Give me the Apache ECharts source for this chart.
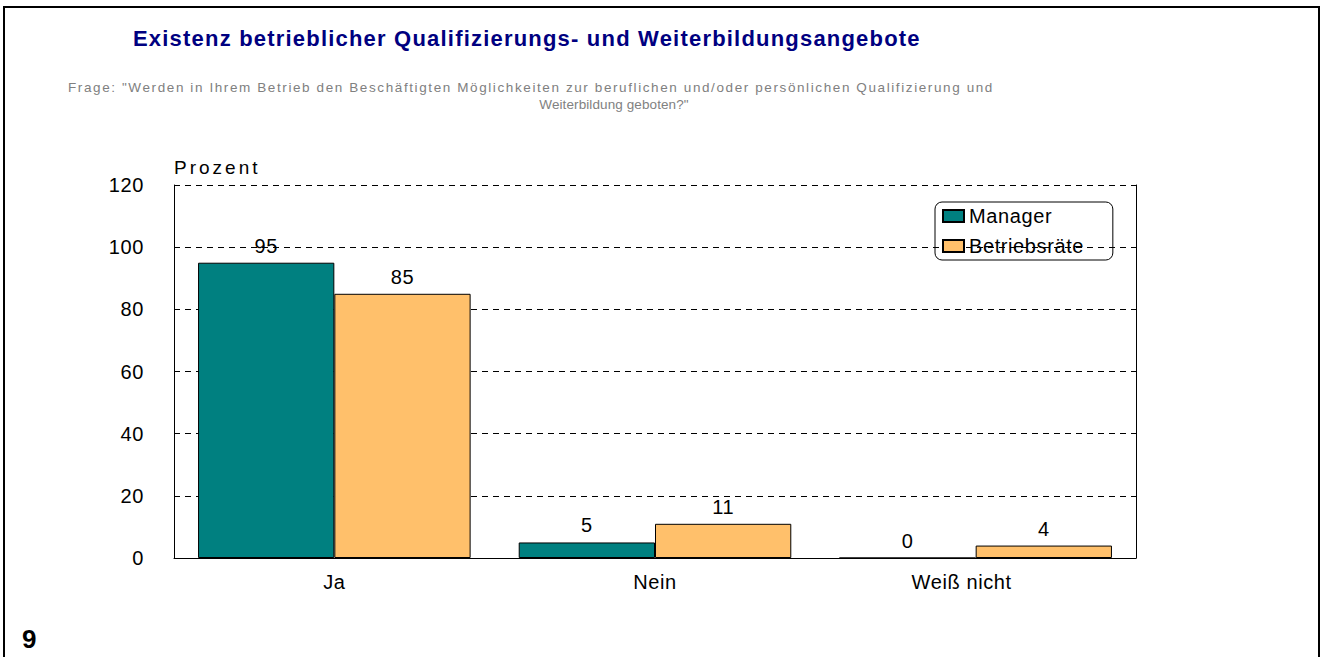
<!DOCTYPE html>
<html>
<head>
<meta charset="utf-8">
<script src="https://cdn.jsdelivr.net/npm/echarts@6/dist/echarts.min.js"></script>
<style>
  html, body { margin: 0; padding: 0; background: #fff; }
  #main { width: 1321px; height: 657px; }
  /* the original export spreads its glyphs a little */
  #main text { letter-spacing: 0.6px; }
  #main text[fill="#000080"] { letter-spacing: 1.2px; }
  #main text[fill="#808080"] { letter-spacing: 1.6px; }
  #main text[fill="#818181"] { letter-spacing: 0.1px; }
  #main text[fill="#010101"] { letter-spacing: 3px; }
</style>
</head>
<body>
<div id="main"></div>
<script>
// Data
const categories = ["Ja", "Nein", "Weiß nicht"];
const seriesNames = ["Manager", "Betriebsräte"];
const managerValues = [95, 5, 0];
const betriebsraeteValues = [85, 11, 4];
const yTicks = [0, 20, 40, 60, 80, 100, 120];

const FONT = "Arial, 'Liberation Sans', sans-serif";
const chart = echarts.init(document.getElementById("main"), null, { renderer: "svg" });

const labelStyle = {
  show: true,
  position: "top",
  distance: 7,
  color: "#000",
  fontSize: 20,
  fontFamily: FONT,
};

// the last category label sits a bit left of its band in the original
const categoryData = categories.map((name, i) =>
  i === categories.length - 1
    ? { value: name, textStyle: { padding: [0, 28, 0, 0] } }
    : name
);

const option = {
  backgroundColor: "#fff",
  animation: false,
  title: {
    text: "Existenz betrieblicher Qualifizierungs- und Weiterbildungsangebote",
    left: 128,
    top: 22,
    textStyle: { color: "#000080", fontSize: 22, fontWeight: "bold", fontFamily: FONT },
  },
  graphic: [
    // outer frame (no bottom edge)
    {
      type: "polyline",
      shape: { points: [[4, 660], [4, 7], [1319, 7], [1319, 660]] },
      style: { stroke: "#000", lineWidth: 2, fill: null },
    },
    {
      type: "text", x: 68, y: 87,
      style: {
        text: 'Frage: "Werden in Ihrem Betrieb den Beschäftigten Möglichkeiten zur beruflichen und/oder persönlichen Qualifizierung und',
        verticalAlign: "middle",
        fill: "#808080", fontSize: 13.5, fontFamily: FONT,
      },
    },
    {
      type: "text", x: 614, y: 104,
      style: {
        text: 'Weiterbildung geboten?"', align: "center", verticalAlign: "middle",
        fill: "#818181", fontSize: 13.5, fontFamily: FONT,
      },
    },
    {
      type: "text", x: 174, y: 167,
      style: { text: "Prozent", verticalAlign: "middle", fill: "#010101", fontSize: 19, fontFamily: FONT },
    },
    {
      type: "text", x: 22, y: 639,
      style: { text: "9", verticalAlign: "middle", fill: "#000", fontSize: 26, fontWeight: "bold", fontFamily: FONT },
    },
  ],
  legend: {
    data: seriesNames,
    orient: "vertical",
    left: 935,
    top: 202,
    itemWidth: 21,
    itemHeight: 12,
    itemGap: 10,
    padding: [4, 36, 4, 7],
    borderColor: "#000",
    borderWidth: 1,
    borderRadius: 7,
    icon: "rect",
    textStyle: { color: "#000", fontSize: 20, fontFamily: FONT },
  },
  grid: { left: 174, right: 185, top: 185, bottom: 99 },
  xAxis: {
    type: "category",
    data: categoryData,
    axisLine: { show: true, lineStyle: { color: "#000", width: 1 } },
    axisTick: { show: false },
    axisLabel: { color: "#000", fontSize: 20, fontFamily: FONT, margin: 14 },
  },
  yAxis: [
    {
      type: "value",
      min: yTicks[0],
      max: yTicks[yTicks.length - 1],
      interval: yTicks[1] - yTicks[0],
      axisLine: { show: true, lineStyle: { color: "#000", width: 1 } },
      axisTick: { show: false },
      axisLabel: { color: "#000", fontSize: 20, fontFamily: FONT, margin: 30 },
      splitLine: { show: true, lineStyle: { color: "#000", type: [6, 5], width: 1 } },
    },
    {
      type: "value",
      position: "right",
      min: yTicks[0],
      max: yTicks[yTicks.length - 1],
      interval: yTicks[1] - yTicks[0],
      axisLine: { show: true, lineStyle: { color: "#000", width: 1 } },
      axisTick: { show: false },
      axisLabel: { show: false },
      splitLine: { show: false },
    },
  ],
  series: [
    {
      name: seriesNames[0],
      type: "bar",
      data: managerValues,
      barGap: "0%",
      barCategoryGap: "15%",
      itemStyle: { color: "#008080", borderColor: "#000", borderWidth: 1 },
      label: labelStyle,
    },
    {
      name: seriesNames[1],
      type: "bar",
      data: betriebsraeteValues,
      barGap: "0%",
      barCategoryGap: "15%",
      itemStyle: { color: "#FFC06B", borderColor: "#000", borderWidth: 1 },
      label: labelStyle,
    },
  ],
};

chart.setOption(option);
</script>
</body>
</html>
